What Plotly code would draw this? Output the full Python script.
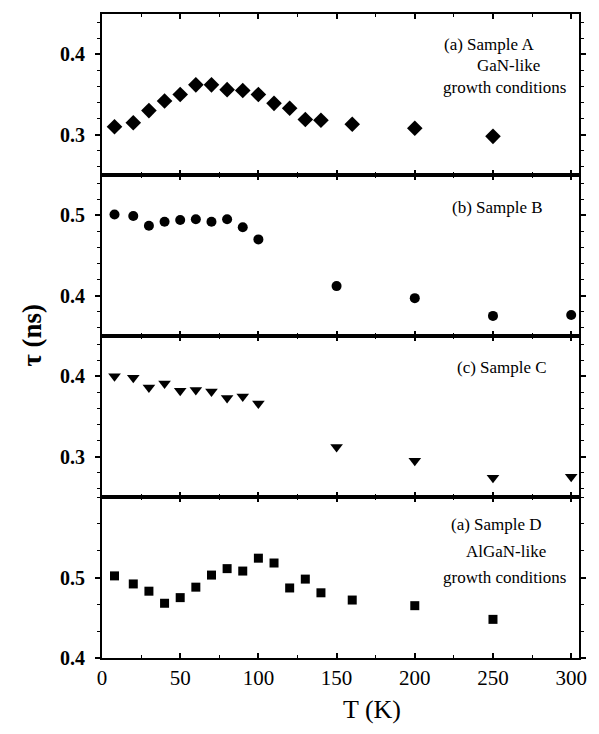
import plotly.graph_objects as go
from plotly.subplots import make_subplots

# ---- data ----
T_A = [8, 20, 30, 40, 50, 60, 70, 80, 90, 100, 110, 120, 130, 140, 160, 200, 250]
tau_A = [0.310, 0.315, 0.330, 0.342, 0.350, 0.362, 0.362, 0.356, 0.355, 0.350,
         0.339, 0.333, 0.319, 0.318, 0.313, 0.308, 0.298]
T_B = [8, 20, 30, 40, 50, 60, 70, 80, 90, 100, 150, 200, 250, 300]
tau_B = [0.501, 0.499, 0.487, 0.492, 0.494, 0.495, 0.492, 0.495, 0.485, 0.470,
         0.412, 0.397, 0.375, 0.376]
T_C = [8, 20, 30, 40, 50, 60, 70, 80, 90, 100, 150, 200, 250, 300]
tau_C = [0.400, 0.398, 0.386, 0.391, 0.382, 0.383, 0.381, 0.373, 0.375, 0.366,
         0.312, 0.295, 0.274, 0.275]
T_D = [8, 20, 30, 40, 50, 60, 70, 80, 90, 100, 110, 120, 130, 140, 160, 200, 250]
tau_D = [0.502, 0.492, 0.483, 0.468, 0.475, 0.488, 0.503, 0.511, 0.508, 0.524,
         0.518, 0.487, 0.498, 0.481, 0.472, 0.465, 0.448]

y_ranges = [[0.25, 0.45], [0.35, 0.55], [0.25, 0.45], [0.40, 0.60]]
y_ticks = [[0.3, 0.4], [0.4, 0.5], [0.3, 0.4], [0.4, 0.5]]
x_ticks = [0, 50, 100, 150, 200, 250, 300]

# ---- layout constants ----
W, H = 599, 734
ML, MR, MT, MB = 102, 16, 12, 76
PW, PH = W - ML - MR, H - MT - MB

fig = make_subplots(rows=4, cols=1, shared_xaxes=True, vertical_spacing=0)

series = [(T_A, tau_A, "diamond", 12), (T_B, tau_B, "circle", 10),
          (T_C, tau_C, "triangle-down", 11), (T_D, tau_D, "square", 9)]
for i, (xs, ys, sym, sz) in enumerate(series):
    fig.add_trace(go.Scatter(x=xs, y=ys, mode="markers",
                             marker=dict(symbol=sym, size=sz, color="black"),
                             showlegend=False), row=i + 1, col=1)

serif = "Liberation Serif, Times New Roman, serif"
for i in range(4):
    fig.update_yaxes(range=y_ranges[i], tickvals=y_ticks[i], ticktext=[f"{v:.1f}" for v in y_ticks[i]],
                     showline=True, linecolor="black", linewidth=2, mirror="ticks",
                     ticks="outside", ticklen=5, tickwidth=1.5, tickcolor="black",
                     ticklabelstandoff=6,
                     minor=dict(dtick=0.02 if i < 3 else 0.1 / 3, ticks="outside", ticklen=3,
                                tickcolor="black", tickwidth=1),
                     tickfont=dict(family=serif, size=20, color="black", weight="bold"),
                     showgrid=False, zeroline=False, row=i + 1, col=1)
    fig.update_xaxes(range=[0, 305], tickvals=x_ticks,
                     showline=True, linecolor="black", linewidth=2, mirror="ticks",
                     ticks="inside", ticklen=5, tickwidth=1.5, tickcolor="black",
                     minor=dict(dtick=25, ticks="inside", ticklen=3, tickcolor="black", tickwidth=1),
                     showticklabels=(i == 3),
                     tickfont=dict(family=serif, size=21, color="black"),
                     showgrid=False, zeroline=False, row=i + 1, col=1)


def px_to_paper(px, py):
    return (px - ML) / PW, (H - MB - py) / PH


labels = [("(a) Sample A", 492, 43), ("GaN-like", 512, 64), ("growth conditions", 508, 86),
          ("(b) Sample B", 501, 206), ("(c) Sample C", 505, 367),
          ("(a) Sample D", 500, 524), ("AlGaN-like", 509, 551), ("growth conditions", 508, 577)]
for txt, px, py in labels:
    xp, yp = px_to_paper(px, py)
    fig.add_annotation(text=txt, x=xp, y=yp, xref="paper", yref="paper", showarrow=False,
                       xanchor="center", yanchor="middle",
                       font=dict(family=serif, size=17, color="black"))

xp, yp = px_to_paper(374, 710)
fig.add_annotation(text="T (K)", x=xp, y=yp, xref="paper", yref="paper", showarrow=False,
                   xanchor="center", yanchor="middle", font=dict(family=serif, size=26, color="black"))
xp, yp = px_to_paper(31, 334)
fig.add_annotation(text="τ (ns)", x=xp, y=yp, xref="paper", yref="paper", showarrow=False,
                   textangle=-90, xanchor="center", yanchor="middle",
                   font=dict(family=serif, size=27, color="black", weight="bold"))

fig.update_layout(width=W, height=H, margin=dict(l=ML, r=MR, t=MT, b=MB),
                  plot_bgcolor="white", paper_bgcolor="white")

fig.write_html("out.html", config={"displayModeBar": False},
               post_script="document.body.style.margin='0';document.body.style.overflow='hidden';")
